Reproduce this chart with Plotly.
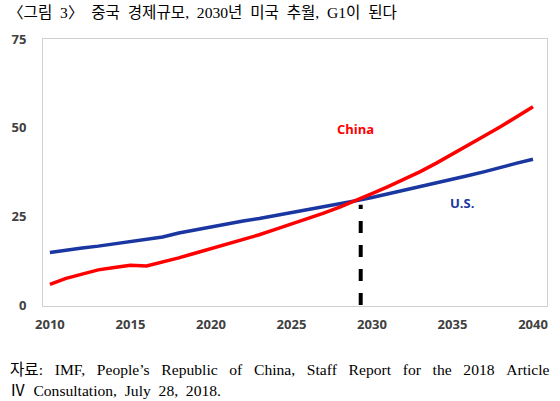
import plotly.graph_objects as go

years = list(range(2010, 2041))
china = [5.8, 7.5, 8.7, 9.9, 10.6, 11.2, 11.0, 12.1, 13.3, 14.6, 15.9, 17.1, 18.4,
         19.8, 21.3, 22.8, 24.3, 25.9, 27.6, 29.4, 31.4, 33.4, 35.5, 37.6, 40.0,
         42.5, 45.1, 47.7, 50.3, 53.0, 55.9]
us = [14.8, 15.5, 16.1, 16.6, 17.3, 18.0, 18.6, 19.2, 20.3, 21.2, 22.1, 23.0, 23.7,
      24.4, 25.2, 26.0, 26.8, 27.6, 28.5, 29.4, 30.3, 31.3, 32.4, 33.4, 34.4,
      35.4, 36.5, 37.6, 38.9, 40.0, 41.1]
cross_year = 2029.3
cross_value = 28.3
x_ticks = [2010, 2015, 2020, 2025, 2030, 2035, 2040]
y_ticks = [0, 25, 50, 75]

title_words = ["〈그림", "3〉", "중국", "경제규모,", "2030년", "미국", "추월,", "G1이", "된다"]
source_line1_words = ["자료:", "IMF,", "People’s", "Republic", "of", "China,", "Staff",
                      "Report", "for", "the", "2018", "Article"]
source_line2_words = ["Ⅳ", "Consultation,", "July", "28,", "2018."]

NB = "\u00a0"
title_text = (NB * 2).join(title_words)
source_line1 = (NB * 3).join(source_line1_words)
source_line2 = (NB * 2).join(source_line2_words)

fig = go.Figure()
fig.add_trace(go.Scatter(x=years, y=us, mode="lines",
                         line=dict(color="#1a36a0", width=3.5), hoverinfo="skip"))
fig.add_trace(go.Scatter(x=years, y=china, mode="lines",
                         line=dict(color="#ff0000", width=3.5), hoverinfo="skip"))
fig.add_trace(go.Scatter(x=[cross_year, cross_year], y=[0, cross_value], mode="lines",
                         line=dict(color="black", width=4, dash="dash"), hoverinfo="skip"))

fig.add_annotation(x=2029.0, y=49.6, text="<b>China</b>", showarrow=False,
                   font=dict(family="Open Sans", size=13, color="#ff0000"))
fig.add_annotation(x=2035.6, y=28.8, text="<b>U.S.</b>", showarrow=False,
                   font=dict(family="Open Sans", size=13, color="#1a36a0"))

serif = "Liberation Serif, Noto Sans CJK KR"
fig.add_annotation(xref="paper", yref="paper", x=-0.0728, y=1.101, xanchor="left", yanchor="middle",
                   text=title_text, showarrow=False,
                   font=dict(family=serif, size=15.6, color="black"))
fig.add_annotation(xref="paper", yref="paper", x=-0.0689, y=-0.236, xanchor="left", yanchor="middle",
                   text=source_line1, showarrow=False,
                   font=dict(family=serif, size=15.6, color="black"))
fig.add_annotation(xref="paper", yref="paper", x=-0.0689, y=-0.315, xanchor="left", yanchor="middle",
                   text=source_line2, showarrow=False,
                   font=dict(family=serif, size=15.6, color="black"))

fig.update_layout(
    width=560, height=401,
    margin=dict(l=40, r=12, t=39, b=95),
    paper_bgcolor="white", plot_bgcolor="white",
    showlegend=False,
    xaxis=dict(range=[2009.57, 2040.87], tickvals=x_ticks, showgrid=False, zeroline=False,
               showline=True, mirror=True, linecolor="#d0d0d0", linewidth=1,
               ticks="outside", ticklen=6, tickcolor="rgba(0,0,0,0)",
               tickfont=dict(family="Open Sans", size=13, color="#404040", weight="bold")),
    yaxis=dict(range=[-0.28, 75.0], tickvals=y_ticks, showgrid=False, zeroline=False,
               showline=True, mirror=True, linecolor="#d0d0d0", linewidth=1,
               ticks="outside", ticklen=13, tickcolor="rgba(0,0,0,0)",
               tickfont=dict(family="Open Sans", size=13, color="#404040", weight="bold")),
)

fig.write_html("out.html", config={"displayModeBar": False},
               post_script="document.body.style.margin='0';")
